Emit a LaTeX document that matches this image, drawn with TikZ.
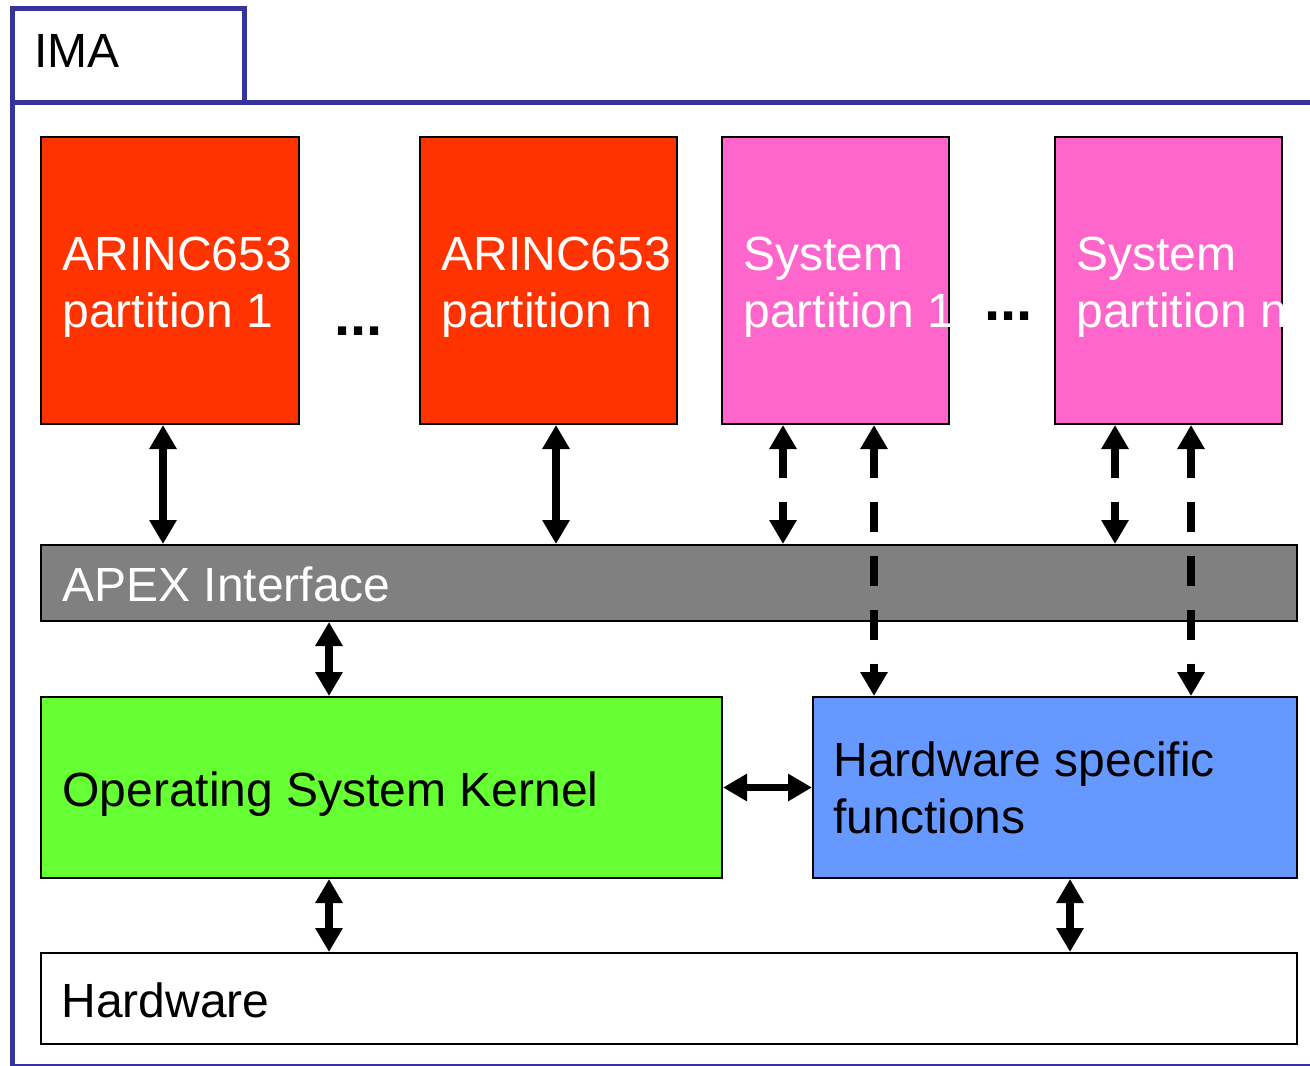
\documentclass[tikz,border=0pt]{standalone}
\usepackage{fontspec}
\setmainfont{Liberation Sans}
\usetikzlibrary{arrows.meta,fit}
\definecolor{frameblue}{HTML}{333399}
\definecolor{arincred}{HTML}{FF3300}
\definecolor{syspink}{HTML}{FF66CC}
\definecolor{apexgray}{HTML}{808080}
\definecolor{kernelgreen}{HTML}{66FF33}
\definecolor{hwblue}{HTML}{6699FF}
\tikzset{
  frame/.style={draw=frameblue, line width=2.5pt, inner sep=0pt},
  box/.style={draw=black, line width=1pt, inner sep=0pt},
  lbl/.style={inner sep=0pt, anchor=base west, font=\fontsize{24pt}{28.5pt}\selectfont, align=left},
  dotlbl/.style={inner sep=0pt, anchor=base west, font=\fontsize{29pt}{34pt}\selectfont\bfseries},
  dbl/.style={line width=3.75pt, {Triangle[length=12pt,width=13pt]}-{Triangle[length=12pt,width=13pt]}},
  dashdbl/.style={dbl, dash pattern=on 15pt off 12pt}
}
\begin{document}
\begin{tikzpicture}[x=0.5pt,y=-0.5pt]
\clip (0,0) rectangle (1310,1065);
\fill[white] (0,0) rectangle (1310,1065);
% IMA frame
\node[frame, fit={(12.5,102.5) (1340,1066)}] (imaframe) {};
\node[frame, fill=white, fit={(12.5,9) (244.5,102.5)}] (imatab) {};
\node[lbl] (imalbl) at (34,68) {IMA};
% partitions
\node[box, fill=arincred, fit={(41,137) (299,424)}] (a1) {};
\node[box, fill=arincred, fit={(420,137) (677,424)}] (an) {};
\node[box, fill=syspink, fit={(722,137) (949,424)}] (s1) {};
\node[box, fill=syspink, fit={(1055,137) (1282,424)}] (sn) {};
\node[lbl, text=white] (a1t) at (62,327) {ARINC653\\partition 1};
\node[lbl, text=white] (ant) at (441,327) {ARINC653\\partition n};
\begin{scope}
\clip (s1.north west) rectangle (s1.south east);
\node[lbl, text=white] (s1t) at (743,327) {System\\partition 1};
\end{scope}
\begin{scope}
\clip (sn.north west) rectangle (sn.south east);
\node[lbl, text=white] (snt) at (1076,327) {System\\partition n};
\end{scope}
\node[dotlbl] (dots1) at (334,335) {...};
\node[dotlbl] (dots2) at (984,320) {...};
% APEX
\node[box, fill=apexgray, fit={(41,545) (1297,621)}] (apex) {};
\node[lbl, text=white] (apext) at (62,601) {APEX Interface};
% kernel and hw functions
\node[box, fill=kernelgreen, fit={(41,697) (722,878)}] (osk) {};
\node[lbl] (oskt) at (62,806) {Operating System Kernel};
\node[box, fill=hwblue, fit={(813,697) (1297,878)}] (hsf) {};
\node[lbl] (hsft) at (833,833) {Hardware specific\\functions};
% hardware
\node[box, fill=white, fit={(41,953) (1297,1044)}] (hw) {};
\node[lbl] (hwt) at (61,1017) {Hardware};
% arrows
\draw[dbl] (163,0 |- a1.south) -- (163,0 |- apex.north);
\draw[dbl] (556,0 |- an.south) -- (556,0 |- apex.north);
\draw[dashdbl] (783,0 |- s1.south) -- (783,0 |- apex.north);
\draw[dashdbl] (874,0 |- s1.south) -- (874,0 |- hsf.north);
\draw[dashdbl] (1115,0 |- sn.south) -- (1115,0 |- apex.north);
\draw[dashdbl] (1191,0 |- sn.south) -- (1191,0 |- hsf.north);
\draw[dbl] (329,0 |- apex.south) -- (329,0 |- osk.north);
\draw[dbl] (osk.east) -- (hsf.west);
\draw[dbl] (329,0 |- osk.south) -- (329,0 |- hw.north);
\draw[dbl] (1070,0 |- hsf.south) -- (1070,0 |- hw.north);
\end{tikzpicture}
\end{document}
